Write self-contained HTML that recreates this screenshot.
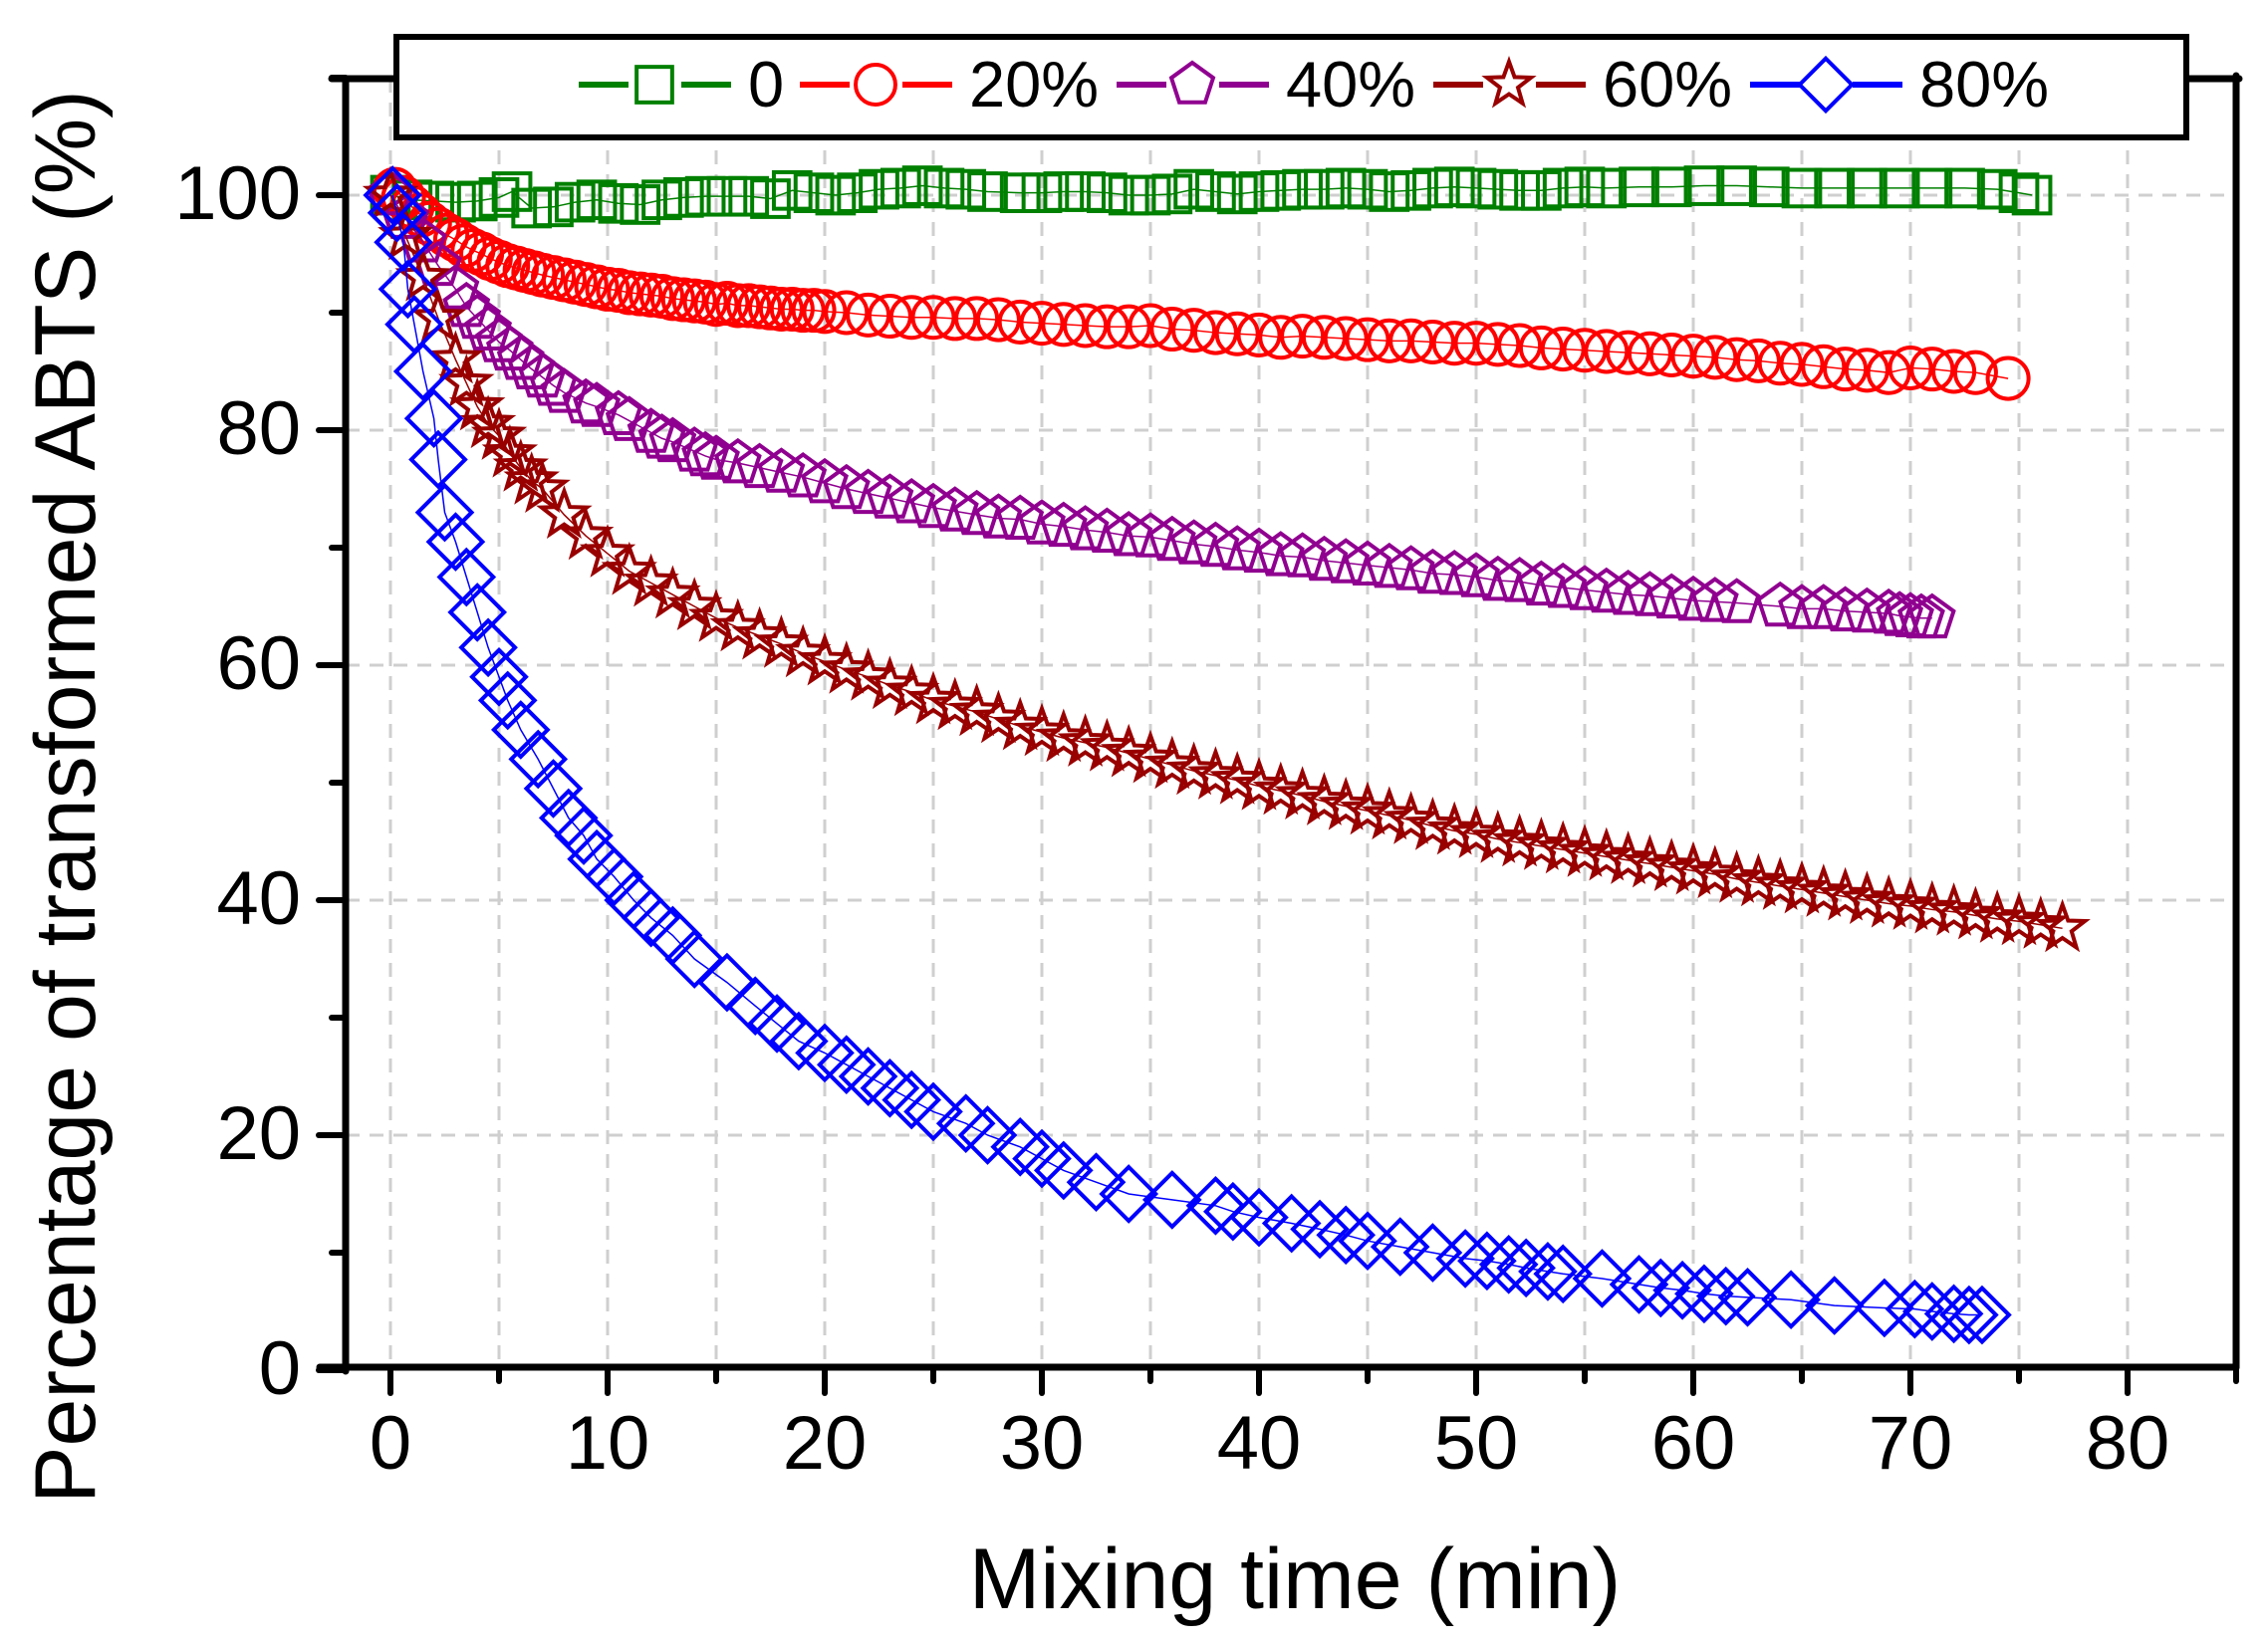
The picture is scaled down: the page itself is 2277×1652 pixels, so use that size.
<!DOCTYPE html>
<html><head><meta charset="utf-8"><style>
html,body{margin:0;padding:0;background:#fff;}
svg{display:block;font-family:"Liberation Sans",Arial,sans-serif;}
</style></head><body>
<svg id="chart" width="2277" height="1652" viewBox="0 0 2277 1652" xmlns="http://www.w3.org/2000/svg">
<g id="grid"></g>
<g id="series"></g>
<g id="axes"></g>
<text x="1300" y="1615" text-anchor="middle" font-size="86">Mixing time (min)</text>
<text transform="translate(95,800) rotate(-90)" text-anchor="middle" font-size="86">Percentage of transformed ABTS (%)</text>
<g id="legend"></g>
</svg>
<script>
const xTicks = [0,10,20,30,40,50,60,70,80];
const yTicks = [0,20,40,60,80,100];
const seriesNames = ["0","20%","40%","60%","80%"];
const s0 = [[0,100],[1,99.6],[2,99.5],[3,99.4],[4,99.5],[5,99.8],[5.6,100.3],[6.5,98.9],[7.5,99],[8.5,99.4],[9.5,99.6],[10.5,99.3],[11.5,99.2],[12.5,99.6],[13.5,99.8],[14.5,99.9],[15.5,99.9],[16.5,99.9],[17.5,99.7],[18.5,100.4],[19.5,100.2],[20.5,100],[21.5,100.2],[22.5,100.5],[23.5,100.6],[24.5,100.8],[25.5,100.6],[26.5,100.5],[27.5,100.3],[29,100.2],[30,100.2],[31,100.3],[32,100.3],[33,100.2],[34,100],[35,100],[36,100.1],[37,100.5],[38,100.3],[39,100.1],[40,100.3],[41,100.4],[42,100.5],[43,100.5],[44,100.6],[45,100.5],[46,100.3],[47,100.4],[48,100.6],[49,100.7],[50,100.6],[51,100.5],[52,100.4],[53,100.4],[54,100.6],[55,100.7],[56,100.6],[57.5,100.7],[59,100.7],[60.5,100.8],[62,100.8],[63.5,100.7],[65,100.6],[66.5,100.6],[68,100.6],[69.5,100.6],[71,100.6],[72.5,100.6],[74,100.5],[75,100.2],[75.6,100]];
const s20 = [[0.2,100.5],[0.6,99.8],[1,99],[1.4,98.3],[1.8,97.6],[2.2,97.1],[2.6,96.6],[3,96.2],[3.4,95.7],[3.8,95.3],[4.2,95],[4.6,94.6],[5,94.3],[5.4,94],[5.8,93.8],[6.2,93.6],[6.6,93.4],[7,93.2],[7.5,93],[8,92.8],[8.5,92.6],[9,92.4],[9.5,92.2],[10,92],[10.5,91.9],[11,91.7],[11.5,91.6],[12,91.5],[12.5,91.4],[13,91.2],[13.5,91.1],[14,91],[14.5,90.9],[15,90.7],[15.5,90.8],[16,90.6],[16.5,90.6],[17,90.5],[17.5,90.4],[18,90.3],[18.5,90.3],[19,90.2],[19.5,90.2],[20,90.1],[21,90],[22,89.8],[23,89.7],[24,89.6],[25,89.6],[26,89.5],[27,89.5],[28,89.4],[29,89.2],[30,89.1],[31,89],[32,88.9],[33,88.8],[34,88.8],[35,88.9],[36,88.6],[37,88.5],[38,88.3],[39,88.2],[40,88.1],[41,87.9],[42,88],[43,87.9],[44,87.8],[45,87.7],[46,87.6],[47,87.6],[48,87.5],[49,87.4],[50,87.4],[51,87.3],[52,87.2],[53,87],[54,86.9],[55,86.8],[56,86.7],[57,86.6],[58,86.5],[59,86.4],[60,86.3],[61,86.2],[62,86],[63,85.9],[64,85.7],[65,85.6],[66,85.4],[67,85.2],[68,85.1],[69,84.9],[70,85.3],[71,85.2],[72,85],[73,84.9],[74.5,84.4]];
const s40 = [[0,100],[0.7,98],[1.5,96],[2.2,94],[3,92],[3.5,90.5],[4,89.5],[4.5,88.5],[5,87.5],[5.5,86.8],[6,86],[6.5,85.2],[7,84.5],[7.5,83.8],[8,83.2],[9,82.3],[9.5,82],[10.5,81.3],[11,80.8],[12,79.8],[12.5,79.3],[13,79],[14,78.2],[14.5,77.8],[15,77.5],[16,77.2],[17,76.8],[18,76.4],[19,76],[20,75.5],[21,75],[22,74.6],[23,74.2],[24,73.8],[25,73.4],[26,73.1],[27,72.8],[28,72.5],[29,72.4],[30,72],[31,71.8],[32,71.5],[33,71.3],[34,71],[35,70.9],[36,70.6],[37,70.3],[38,70.1],[39,69.8],[40,69.6],[41,69.3],[42,69.2],[43,68.9],[44,68.7],[45,68.5],[46,68.3],[47,68.1],[48,67.8],[49,67.7],[50,67.5],[51,67.2],[52,67.1],[53,66.8],[54,66.6],[55,66.4],[56,66.2],[57,66],[58,65.9],[59,65.7],[60,65.5],[61,65.4],[62,65.3],[64,65],[65,64.8],[66,64.8],[67,64.6],[68,64.5],[69,64.4],[69.5,64.2],[70,64.1],[70.5,64],[71,64]];
const s60 = [[0,100],[0.7,96.5],[1.5,93],[2.2,89.5],[3,86],[3.5,84],[4,82],[4.5,80.5],[5,79.5],[5.5,78],[6,76.8],[6.5,75.7],[7,75],[8,72.8],[9,71],[10,69.5],[11,68],[12,67],[13,66],[14,65],[15,64],[16,63.2],[17,62.5],[18,61.8],[19,61],[20,60.3],[21,59.6],[22,59],[23,58.3],[24,57.7],[25,57],[26,56.5],[27,56],[28,55.4],[29,54.8],[30,54.3],[31,53.8],[32,53.4],[33,53],[34,52.5],[35,52],[36,51.5],[37,51],[38,50.6],[39,50.2],[40,49.7],[41,49.3],[42,48.9],[43,48.4],[44,48],[45,47.6],[46,47.2],[47,46.8],[48,46.3],[49,45.9],[50,45.6],[51,45.2],[52,44.9],[53,44.6],[54,44.3],[55,44],[56,43.7],[57,43.4],[58,43.1],[59,42.8],[60,42.5],[61,42.2],[62,41.8],[63,41.5],[64,41.2],[65,40.9],[66,40.6],[67,40.3],[68,40],[69,39.7],[70,39.5],[71,39.2],[72,39],[73,38.7],[74,38.4],[75,38.2],[76,37.9],[77,37.6]];
const s80 = [[0.1,100],[0.3,98.5],[0.6,96],[0.8,92],[1.1,89],[1.5,85],[2,81],[2.2,77.5],[2.5,73],[3,70.5],[3.5,67.5],[4,64.5],[4.5,61.5],[5,59],[5.4,57],[6,54.5],[6.8,52],[7.5,49.5],[8.2,47],[8.9,45.5],[9.5,43.5],[10.3,42],[11.2,40],[12,38.5],[13,37],[14,35],[15.5,33],[16.8,31],[17.8,29.5],[18.8,28],[20,27],[21,26],[22,25],[23,24],[24,23],[25,22],[26.5,21],[27.5,20],[29,19],[30,18],[31,17],[32.5,16],[34,15],[36,14.5],[38,14],[38.8,13.5],[40,13],[41.5,12.5],[42.8,12],[44,11.5],[45,11],[46.5,10.5],[48,10],[49.5,9.5],[50.5,9.3],[51.5,9],[52.3,8.7],[53.3,8.4],[54,8.2],[55.8,7.8],[57.5,7.3],[58.5,7],[59.5,6.8],[60.5,6.5],[61.5,6.3],[62.5,6.2],[64.5,6],[66.5,5.5],[68.8,5.3],[70.2,5.2],[71,5],[72,4.8],[72.7,4.7],[73.3,4.7]];

const NS = "http://www.w3.org/2000/svg";
const X0 = 392, XS = 21.8, Y0 = 1376, YS = 11.8;
const L = 347, R = 2245, T = 79, B = 1373;
function sx(v){ return X0 + v * XS; }
function sy(v){ return Y0 - v * YS; }
function mk(tag, attrs, parent){
  const el = document.createElementNS(NS, tag);
  for (const k in attrs) el.setAttribute(k, attrs[k]);
  parent.appendChild(el);
  return el;
}
const grid = document.getElementById('grid');
const axes = document.getElementById('axes');
const seriesG = document.getElementById('series');
const legend = document.getElementById('legend');

for (let v = 0; v <= 80; v += 5) {
  const g = mk('line', {x1: sx(v), x2: sx(v), y1: T, y2: B, stroke: '#cfcfcf', 'stroke-width': 3, 'stroke-dasharray': '14,10'}, grid);
  
  
}
yTicks.forEach(v => {
  if (v === 0) return;
  const g = mk('line', {x1: L, x2: R, y1: sy(v), y2: sy(v), stroke: '#cfcfcf', 'stroke-width': 3, 'stroke-dasharray': '14,10'}, grid);
  
  
});

const colors = ['#008000', '#ff0000', '#900090', '#990000', '#0000ff'];
const allSeries = [s0, s20, s40, s60, s80];
function marker(type, x, y, color, parent, s) {
  s = s || 1;
  let el;
  if (type === 0) {
    el = mk('rect', {x: x - 17*s, y: y - 17*s, width: 34*s, height: 34*s}, parent);
  } else if (type === 1) {
    el = mk('circle', {cx: x, cy: y, r: 19*s}, parent);
  } else if (type === 2) {
    const pts = [];
    for (let i = 0; i < 5; i++) { const a = -Math.PI/2 + i*2*Math.PI/5; pts.push((x + 21*s*Math.cos(a)).toFixed(1) + ',' + (y + 21*s*Math.sin(a)).toFixed(1)); }
    el = mk('polygon', {points: pts.join(' ')}, parent);
  } else if (type === 3) {
    const pts = [];
    for (let i = 0; i < 10; i++) { const a = -Math.PI/2 + i*Math.PI/5; const r = (i % 2 ? 9 : 22)*s; pts.push((x + r*Math.cos(a)).toFixed(1) + ',' + (y + r*Math.sin(a)).toFixed(1)); }
    el = mk('polygon', {points: pts.join(' ')}, parent);
  } else {
    el = mk('polygon', {points: `${x},${y-25*s} ${x+25*s},${y} ${x},${y+25*s} ${x-25*s},${y}`}, parent);
  }
  el.setAttribute('fill', 'none');
  el.setAttribute('stroke', color);
  el.setAttribute('stroke-width', 4);
  return el;
}
allSeries.forEach((data, i) => {
  const g = mk('g', {}, seriesG);
  
  
  const line = mk('polyline', {points: data.map(p => sx(p[0]) + ',' + sy(p[1])).join(' '), fill: 'none', stroke: colors[i], 'stroke-width': 1.5}, g);
  
  
  data.forEach(p => {
    const m = marker(i, sx(p[0]), sy(p[1]), colors[i], g, 1.08);
    
    
  });
});

const axisLines = [
  [L, T, L, 1377, 'y-axis-line'], [321, B, R, B, 'x-axis-line'],
  [R, T - 3, R, B, 'right-axis-line'], [333, T, R + 3, T, 'top-axis-line']
];
axisLines.forEach(a => {
  const l = mk('line', {x1: a[0], y1: a[1], x2: a[2], y2: a[3], stroke: '#000', 'stroke-width': 7, 'stroke-linecap': 'round'}, axes);
  
  
});
for (let v = 0; v <= 85; v += 5) {
  const major = v % 10 === 0;
  const t = mk('line', {x1: sx(v), x2: sx(v), y1: B, y2: B + (major ? 26 : 14), stroke: '#000', 'stroke-width': 6, 'stroke-linecap': 'round'}, axes);
  
  
}
xTicks.forEach(v => {
  const t = mk('text', {x: sx(v), y: 1475, 'text-anchor': 'middle', 'font-size': 76}, axes);
  t.textContent = v;
  
  
});
for (let v = 0; v <= 110; v += 10) {
  const major = v % 20 === 0;
  const t = mk('line', {x1: L - (major ? 27 : 14), x2: L, y1: sy(v), y2: sy(v), stroke: '#000', 'stroke-width': 6, 'stroke-linecap': 'round'}, axes);
  
  
}
yTicks.forEach(v => {
  const t = mk('text', {x: 302, y: sy(v) + 24, 'text-anchor': 'end', 'font-size': 76}, axes);
  t.textContent = v;
  
  
});

const box = mk('rect', {x: 398, y: 37, width: 1797, height: 101, fill: '#fff', stroke: '#000', 'stroke-width': 6}, legend);


const legX = [581, 803, 1121, 1439, 1757];
seriesNames.forEach((n, i) => {
  const g = mk('g', {}, legend);
  
  
  const x = legX[i], cy = 85;
  mk('line', {x1: x, x2: x + 153, y1: cy, y2: cy, stroke: colors[i], 'stroke-width': 6}, g);
  mk('rect', {x: x + 50, y: cy - 25, width: 53, height: 50, fill: '#fff'}, g);
  marker(i, x + 76, cy, colors[i], g, 1.05);
  const t = mk('text', {x: x + 170, y: 107, 'font-size': 65}, g);
  t.textContent = n;
});
</script>
</body></html>
